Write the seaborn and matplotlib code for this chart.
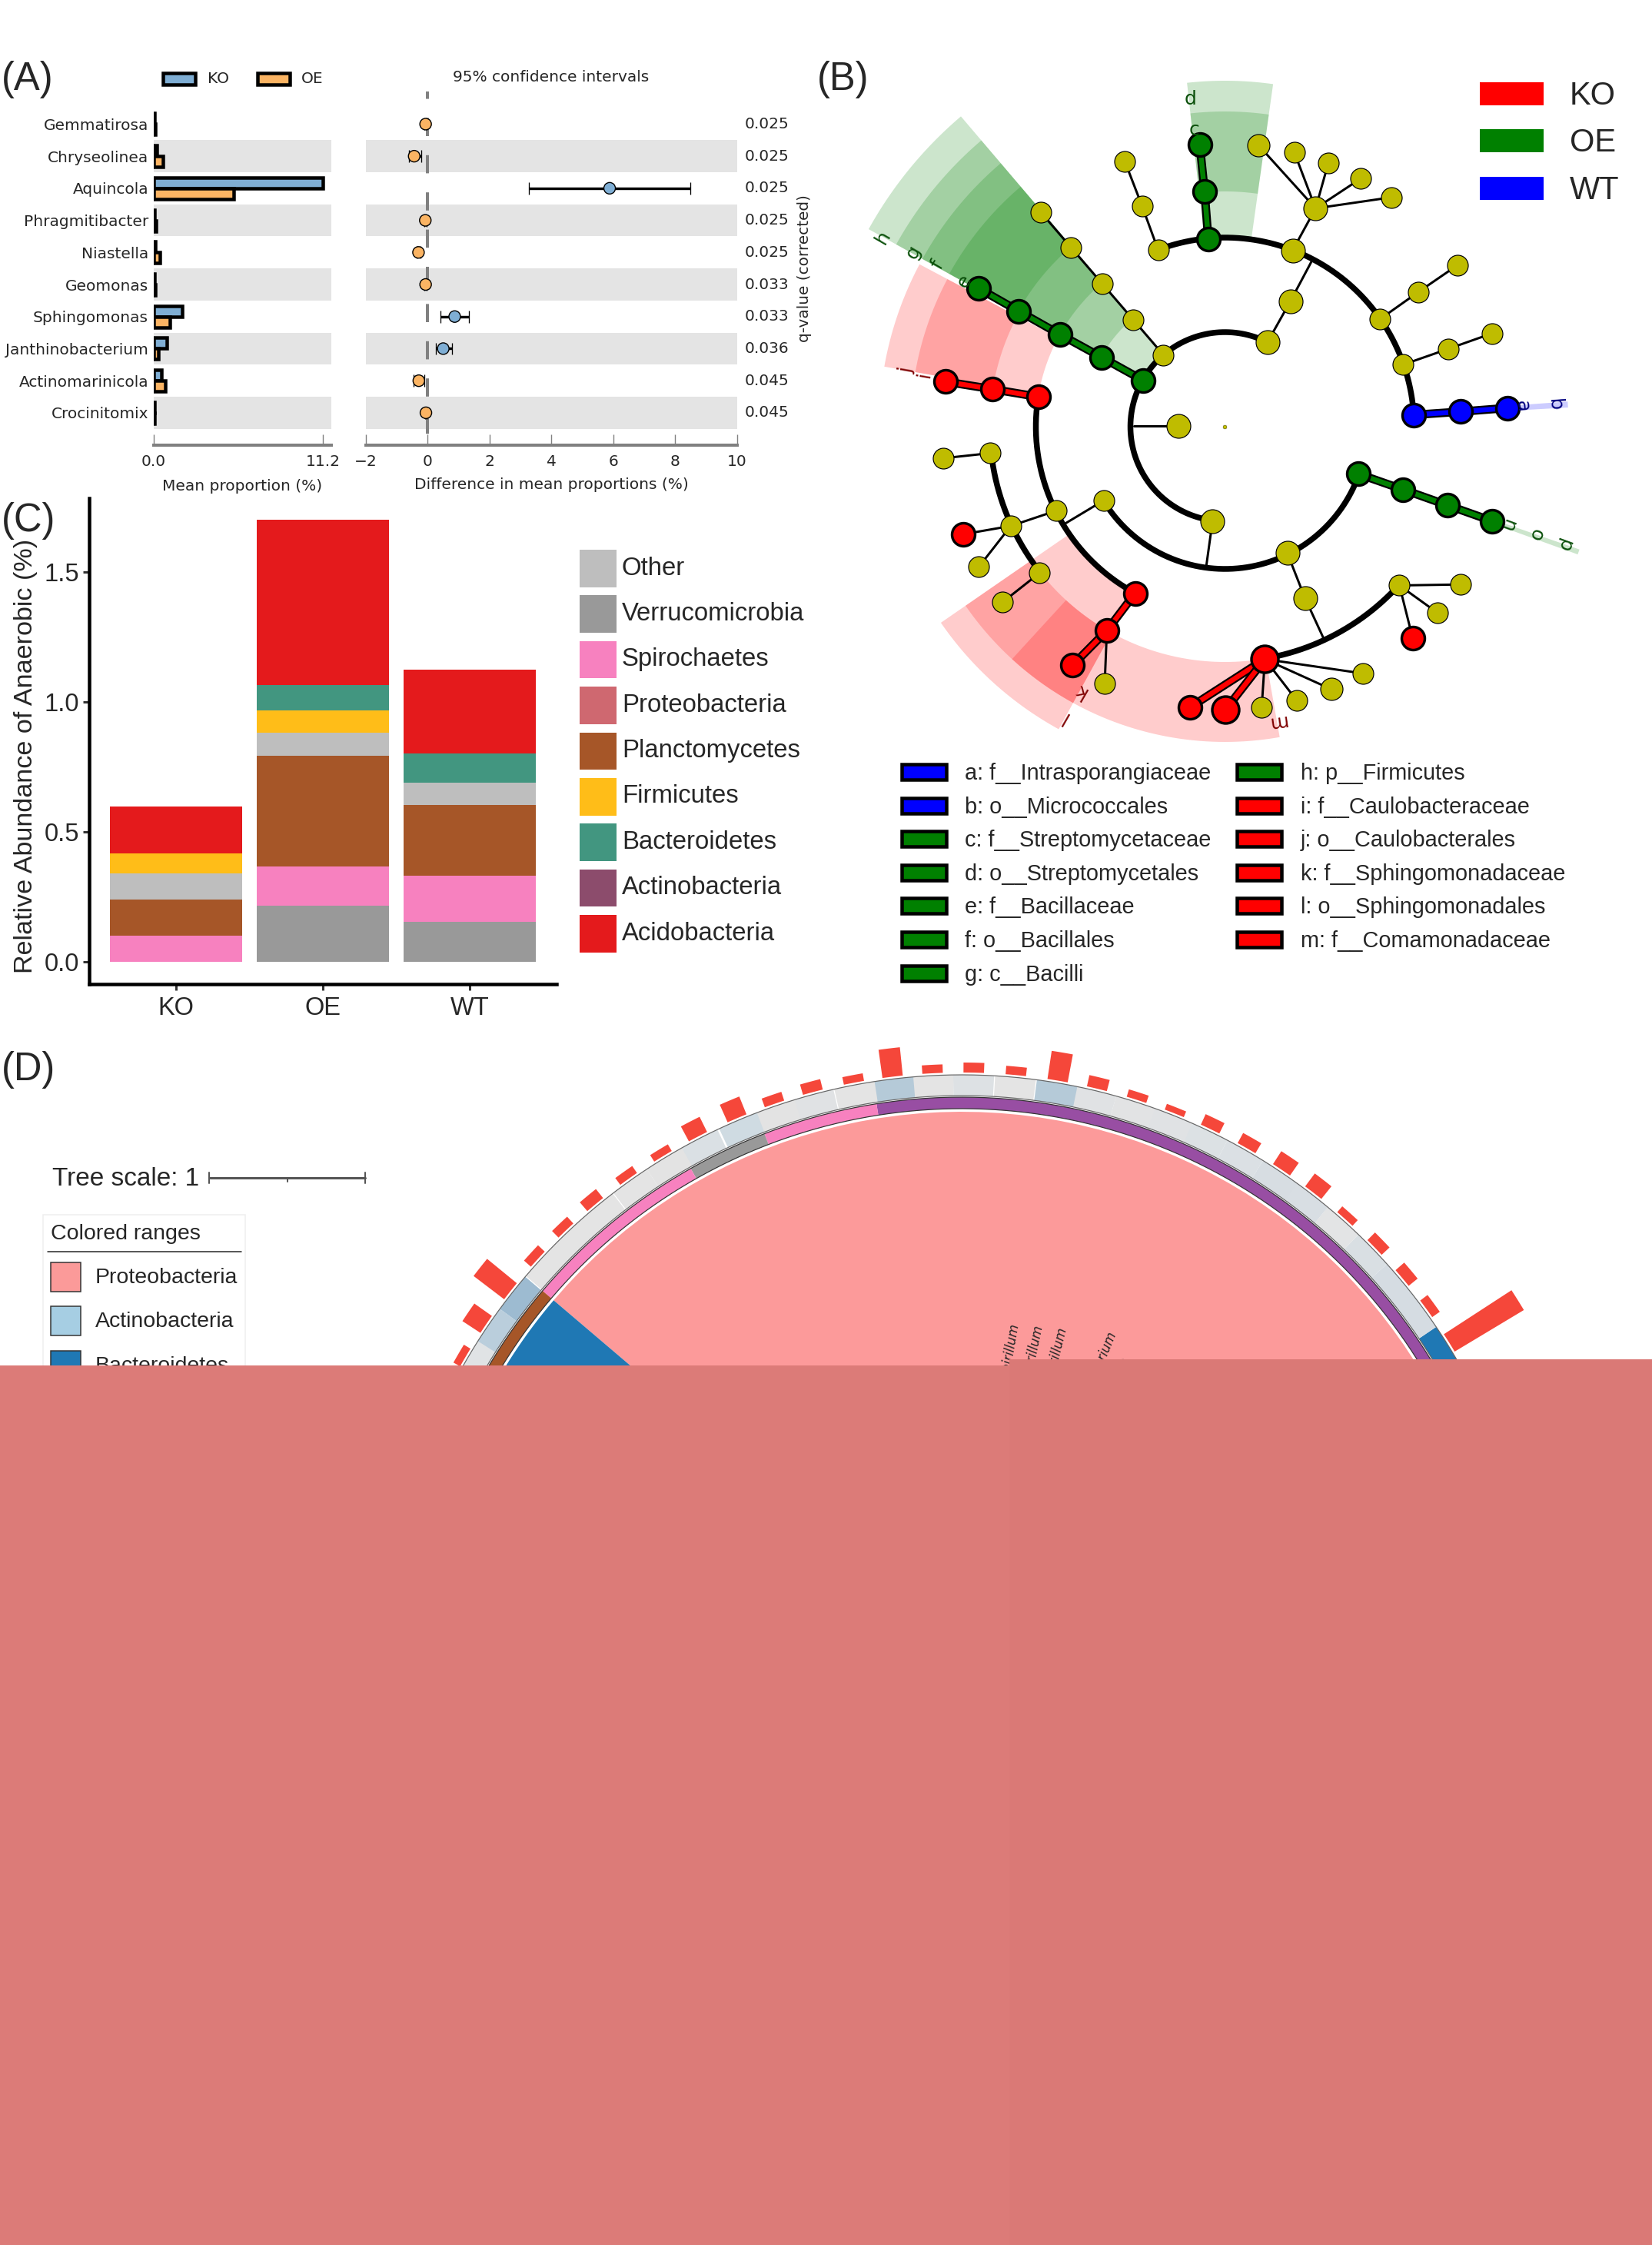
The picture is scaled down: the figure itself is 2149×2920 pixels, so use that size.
import numpy as np
import pandas as pd
import matplotlib
matplotlib.use("Agg")
import matplotlib.pyplot as plt
from matplotlib.patches import Rectangle
import seaborn as sns

W, H = 2149, 2920
sns.set_theme(style="white")
plt.rcParams["font.family"] = ["DejaVu Sans"]
SANS = "Liberation Sans"
PX = 0.72  # one pixel in points at dpi 100

# ---------------- panel A data
GENERA = ["Gemmatirosa", "Chryseolinea", "Aquincola", "Phragmitibacter", "Niastella",
          "Geomonas", "Sphingomonas", "Janthinobacterium", "Actinomarinicola", "Crocinitomix"]
MEAN_KO = [0.05, 0.2, 11.2, 0.05, 0.1, 0.05, 1.9, 0.85, 0.5, 0.03]
MEAN_OE = [0.1, 0.6, 5.3, 0.15, 0.4, 0.12, 1.05, 0.3, 0.75, 0.05]
DIFF = [-0.07, -0.44, 5.88, -0.08, -0.30, -0.07, 0.87, 0.5, -0.29, -0.06]
CI_LOW = [-0.1, -0.62, 3.28, -0.12, -0.36, -0.1, 0.42, 0.25, -0.45, -0.09]
CI_HIGH = [-0.04, -0.22, 8.49, -0.04, -0.24, -0.04, 1.34, 0.79, -0.1, -0.03]
DIFF_GROUP = ["OE", "OE", "KO", "OE", "OE", "OE", "KO", "KO", "OE", "OE"]
QVALUES = ["0.025", "0.025", "0.025", "0.025", "0.025", "0.033", "0.033", "0.036", "0.045", "0.045"]
GROUP_COL = {"KO": "#7FAED4", "OE": "#FBB463"}

# ---------------- panel C data
STRAINS = ["KO", "OE", "WT"]
VERRUCO = [0.0, 0.216, 0.152]
SPIRO = [0.100, 0.151, 0.177]
PLANCTO = [0.139, 0.424, 0.275]
OTHER = [0.101, 0.090, 0.084]
FIRMI = [0.075, 0.086, 0.0]
BACTERO = [0.0, 0.099, 0.112]
ACIDO = [0.182, 0.634, 0.325]
C_LEGEND = ["Other", "Verrucomicrobia", "Spirochaetes", "Proteobacteria", "Planctomycetes",
            "Firmicutes", "Bacteroidetes", "Actinobacteria", "Acidobacteria"]
C_COLORS = ["#BEBEBE", "#999999", "#F781BF", "#CF6870", "#A65628",
            "#FFBD18", "#429680", "#8C4C6C", "#E41A1C"]

# ---------------- panel B data (readings of the cladogram)
B_NAME = ["g1", "g2", "g3",
          "t1", "t2", "t3",
          "u1", "u2", "u3", "u4", "u5", "u6", "u7",
          "v1", "v2",
          "w1", "w2", "w3",
          "x1", "x2", "x3",
          "b1", "b2", "b3",
          "n1", "n2", "n3", "n4",
          "y1", "y2",
          "z1", "z2", "z3", "z4",
          "m1", "m2", "m3", "m4", "m5", "m6", "m7",
          "c1", "c2",
          "f0", "f1", "f2", "f3", "f4",
          "e0", "e1", "e2", "e3", "e4",
          "i1", "i2", "i3",
          "a1", "l1", "l2", "l3", "l4", "l5", "l6", "l7", "l8",
          "k1", "k2", "k3", "k4",
          "o"]
B_ZX = [737, 730, 721,
        643, 613, 581,
        895, 938, 831, 898, 962, 1023, 1080,
        848, 891,
        1059, 1131, 1204,
        1102, 1186, 1269,
        1122, 1210, 1298,
        1018, 1102, 1185, 1268,
        885, 918,
        1095, 1209, 1167, 1120,
        843, 1027, 967, 903, 837, 702, 769,
        745, 681,
        653, 596, 538, 480, 423,
        615, 537, 460, 382, 306,
        419, 332, 245,
        542, 452, 367, 329, 241, 278, 307, 421, 352,
        600, 547, 483, 543,
        768]
B_ZY = [418, 315, 213,
        442, 347, 251,
        443, 352, 215, 230, 253, 287, 328,
        642, 553,
        592, 533, 475,
        691, 657, 623,
        800, 793, 785,
        928, 962, 996, 1030,
        1100, 1197,
        1170, 1168, 1230, 1285,
        1330, 1361, 1395, 1420, 1435, 1435, 1440,
        1030, 824,
        670, 593, 515, 437, 360,
        725, 675, 626, 575, 525,
        761, 744, 728,
        985, 1008, 1041, 883, 894, 1059, 1130, 1143, 1206,
        1187, 1268, 1343, 1382,
        826]
B_CLASS = ["G", "G", "G",
           "s", "s", "s",
           "l", "l", "m", "s", "s", "s", "s",
           "l", "l",
           "s", "s", "s",
           "s", "s", "s",
           "B", "B", "B",
           "G", "G", "G", "G",
           "l", "l",
           "s", "s", "s", "R",
           "Rb", "s", "m", "s", "s", "R", "Rb",
           "l", "l",
           "s", "s", "s", "s", "s",
           "G", "G", "G", "G", "G",
           "R", "R", "R",
           "s", "s", "s", "s", "s", "R", "s", "s", "s",
           "R", "R", "R", "s",
           "t"]
THIN_CHAINS = [["t1", "t2", "t3"], ["u1", "u2"], ["u2", "u3"], ["u2", "u4"], ["u2", "u5"], ["u2", "u6"], ["u2", "u7"],
               ["w1", "w2", "w3"], ["x1", "x2", "x3"], ["z1", "z2"], ["z1", "z3"], ["z1", "z4"],
               ["m1", "m2"], ["m1", "m3"], ["m1", "m4"], ["m1", "m5"],
               ["f0", "f1", "f2", "f3", "f4"], ["l1", "l2"], ["l2", "l5"], ["l2", "l6"], ["l3", "l4"], ["l7", "l8"],
               ["k2", "k4"]]
COLOR_CHAINS = [["b1", "b2", "b3"], ["g1", "g2", "g3"], ["n1", "n2", "n3", "n4"], ["e0", "e1", "e2", "e3", "e4"],
                ["i1", "i2", "i3"], ["k1", "k2", "k3"], ["m1", "m6"], ["m1", "m7"]]
COLOR_CHAIN_COL = ["#0000FF", "#008000", "#008000", "#008000", "#FF0000", "#FF0000", "#FF0000", "#FF0000"]
STEM_ZX = [[597, 681], [733, 745], [953, 918, 885], [930, 891, 848], [470, 542]]
STEM_ZY = [[824, 824], [1130, 1030], [1285, 1197, 1100], [468, 553, 642], [1035, 985]]
ARC_R = [123, 185, 246, 246, 306, 306]
ARC_FROM = [63.4, -146.1, 3.6, 170, -80.2, 186.4]
ARC_TO = [262.5, -19.3, 110.7, 241.6, -42.2, 218.2]
SECTOR_R0 = [123, 185, 246, 308, 246, 306, 246, 306, 306, 246, 306, 246, 185]
SECTOR_R1 = [530, 489, 450, 410, 450, 409, 449, 410, 410, 450, 410, 447, 488]
SECTOR_A0 = [130.4, 130.4, 130.4, 130.4, 152, 152, 214.6, 214.6, 227.5, 82, 82, 3.2, -19.9]
SECTOR_A1 = [151, 151, 151, 151, 170, 170, 241.2, 241.2, 280, 96.3, 96.3, 4.2, -19.1]
SECTOR_COL = ["g", "g", "g", "g", "r", "r", "r", "r", "r", "g", "g", "b", "g"]
LETTERS = ["h", "g", "f", "e", "d", "c", "i", "j", "k", "l", "m", "a", "b", "n", "o", "p"]
LETTER_ZX = [128, 185, 230, 280, 703, 710, 205, 172, 497, 467, 865, 1325, 1385, 1297, 1350, 1403]
LETTER_ZY = [415, 447, 475, 510, 115, 182, 712, 703, 1398, 1455, 1465, 780, 778, 1040, 1060, 1083]
LETTER_ROT = [60, 60, 60, 60, 0, 0, 80, 80, 150, 150, 188, -86, -86, -110, -110, -110]
LETTER_COL = ["#0A4F0A"] * 6 + ["#7F0000"] * 5 + ["#00007F"] * 2 + ["#0A4F0A"] * 3
B_TOP_LEGEND = ["KO", "OE", "WT"]
B_TOP_COL = ["#FF0000", "#008000", "#0000FF"]
B_LEG_1 = ["a: f__Intrasporangiaceae", "b: o__Micrococcales", "c: f__Streptomycetaceae", "d: o__Streptomycetales",
           "e: f__Bacillaceae", "f: o__Bacillales", "g: c__Bacilli"]
B_LEG_1_COL = ["#0000FF", "#0000FF"] + ["#008000"] * 5
B_LEG_2 = ["h: p__Firmicutes", "i: f__Caulobacteraceae", "j: o__Caulobacterales", "k: f__Sphingomonadaceae",
           "l: o__Sphingomonadales", "m: f__Comamonadaceae"]
B_LEG_2_COL = ["#008000"] + ["#FF0000"] * 5

# ---------------- panel D data
BAR_ANGLE = [32, 36.1, 40, 44.1, 48.2, 52.3, 56.2, 60.3, 64.4, 68.3, 72.3, 76.4, 80.4, 84.6, 88.8, 92.9, 96.9,
             100.8, 105, 109, 113, 117.3, 121.3, 125.4, 129.6, 133.5, 137.5, 141.7, 145.8, 149.7]
BAR_LEN = [105, 12, 15, 14, 10, 21, 20, 15, 15, 8, 10, 15, 37, 11, 13, 11, 37,
           10, 14, 12, 25, 22, 10, 11, 15, 12, 12, 50, 28, 10]
RING_COL = ["#1F78B4", "#D5DCE2", "#D5DCE2", "#D9DFE3", "#E3E4E5", "#D8DEE3", "#D7DDE2", "#DBE0E4", "#DCE1E4",
            "#E0E2E4", "#E2E3E4", "#E0E2E4", "#B5CAD8", "#E4E4E4", "#DDE1E4", "#E4E4E4", "#B5CAD8",
            "#E4E4E4", "#E0E2E4", "#E3E3E3", "#CFDBE2", "#DAE0E4", "#E3E3E3", "#E4E4E4", "#E4E4E4",
            "#E4E4E4", "#E4E4E4", "#9DBBD1", "#BACEDC", "#E0E3E5"]
PHYLUM_FROM = [20, 98.9, 111, 119.5, 139.6]
PHYLUM_TO = [98.9, 111, 119.5, 139.6, 170]
PHYLUM_COL = ["#984EA3", "#F781BF", "#999999", "#F781BF", "#A65628"]
DISC_FROM = [-30, 139.6]
DISC_TO = [139.6, 210]
DISC_COL = ["#FC9A9A", "#1F78B4"]
D_LEGEND = ["Proteobacteria", "Actinobacteria", "Bacteroidetes"]
D_LEGEND_COL = ["#FB9A99", "#A6CEE3", "#1F78B4"]
LEAF_NAMES = ["Azospirillum", "Magnetospirillum", "Rhodospirillum", "Methylobacterium", "Novosphingobium"]
LEAF_X = [1322, 1352, 1383, 1448, 1465]
LEAF_Y = [1722, 1724, 1727, 1733, 1767]
LEAF_ROT = [80, 78, 76, 68, 66]

fig = plt.figure(figsize=(W / 100, H / 100), dpi=100, facecolor="white")


def ax_px(l, t, r, b):
    return fig.add_axes([l / W, 1 - b / H, (r - l) / W, (b - t) / H])


# ================= panel A bars
axa = ax_px(200, 119, 431, 578.6)
dfa = pd.DataFrame({"genus": GENERA * 2, "value": MEAN_KO + MEAN_OE, "group": ["KO"] * 10 + ["OE"] * 10})
sns.barplot(data=dfa, y="genus", x="value", hue="group", order=GENERA, hue_order=["KO", "OE"],
            palette=GROUP_COL, edgecolor="black", linewidth=4.5 * PX, width=0.67, ax=axa, legend=False,
            zorder=3, saturation=1)
axa.set_xlim(0, 11.75)
axa.set_ylim(10.0, -1.017)
for i in range(1, 10, 2):
    axa.axhspan(i - 0.5, i + 0.5, color="#E4E4E4", lw=0, zorder=0)

# ================= panel A differences
axb = ax_px(476, 119, 958.8, 578.6)
axb.set_xlim(-2, 10)
axb.set_ylim(10.0, -1.017)
for i in range(1, 10, 2):
    axb.axhspan(i - 0.5, i + 0.5, color="#E4E4E4", lw=0, zorder=0)
axb.plot([0, 0], [-1.017, 10.0], color="#808080", lw=4 * PX, ls=(3.5, (5.9, 6.2)), zorder=1)
ypos = np.arange(len(GENERA))
axb.hlines(ypos, CI_LOW, CI_HIGH, color="black", lw=3.4 * PX, zorder=2)
axb.vlines(CI_LOW, ypos - 0.19, ypos + 0.19, color="black", lw=1.3 * PX, zorder=2)
axb.vlines(CI_HIGH, ypos - 0.19, ypos + 0.19, color="black", lw=1.3 * PX, zorder=2)
sns.scatterplot(x=DIFF, y=ypos, hue=DIFF_GROUP, palette=GROUP_COL, s=(15 * PX) ** 2, edgecolor="black",
                linewidth=1.4 * PX, ax=axb, legend=False, zorder=3)
axb.set_xlim(-2, 10)
axb.set_ylim(10.0, -1.017)
for i, q in enumerate(QVALUES):
    axb.text(10.25, i, q, fontsize=14.5, va="center", ha="left")
axb.text(12.18, 4.5, "q-value (corrected)", fontsize=14.4, rotation=90, va="center", ha="center")

for ax in (axa, axb):
    sns.despine(ax=ax, left=True, top=True, right=True)
    ax.spines["bottom"].set_color("#808080")
    ax.spines["bottom"].set_linewidth(4 * PX)
    ax.tick_params(axis="x", direction="in", length=10, width=1, color="#808080", labelsize=14.5, pad=9, bottom=True)
    ax.grid(False)
    ax.patch.set_visible(False)
axa.set_xticks([0, 11.2], ["0.0", "11.2"])
axb.set_xticks([-2, 0, 2, 4, 6, 8, 10])
axa.tick_params(axis="y", length=0, labelsize=14.5, pad=5)
axb.set_yticks([])
axa.set_xlabel("Mean proportion (%)", fontsize=14.5, labelpad=9)
axb.set_xlabel("Difference in mean proportions (%)", fontsize=14.5, labelpad=8)
axa.set_ylabel("")
axb.set_ylabel("")

# ================= panel C
axc = ax_px(115.7, 648, 724, 1279.6)
stack = [(VERRUCO, "#999999"), (SPIRO, "#F781BF"), (PLANCTO, "#A65628"), (OTHER, "#BEBEBE"),
         (FIRMI, "#FFBD18"), (BACTERO, "#429680"), (ACIDO, "#E41A1C")]
base = np.zeros(3)
for vals, col in stack:
    sns.barplot(x=STRAINS, y=vals, order=STRAINS, color=col, saturation=1, width=0.9, bottom=base,
                linewidth=0, ax=axc)
    base = base + np.array(vals)
axc.set_xlim(-0.593, 2.59)
axc.set_ylim(-0.086, 1.784)
sns.despine(ax=axc)
for s in ("left", "bottom"):
    axc.spines[s].set_color("black")
    axc.spines[s].set_linewidth(4.5 * PX)
axc.set_yticks([0, 0.5, 1.0, 1.5], ["0.0", "0.5", "1.0", "1.5"])
axc.tick_params(axis="y", length=6, width=3 * PX, color="#333333", labelsize=23.5, left=True, pad=3)
axc.tick_params(axis="x", length=6, width=3 * PX, color="#333333", labelsize=23.5, bottom=True, pad=6)
for lab in axc.get_xticklabels() + axc.get_yticklabels():
    lab.set_fontfamily(SANS)
axc.set_ylabel("Relative Abundance of Anaerobic (%)", fontfamily=SANS, fontsize=24.6)
axc.yaxis.set_label_coords((49 - 115.7) / 608.3, 0.4696)
axc.set_xlabel("")
axc.grid(False)

# ================= overlay in picture pixels
cv = fig.add_axes([0, 0, 1, 1], zorder=5)
cv.set_xlim(0, W)
cv.set_ylim(H, 0)
cv.axis("off")

for lab, x, y in [("(A)", 2, 103), ("(B)", 1063, 104), ("(C)", 2, 677), ("(D)", 2, 1391)]:
    cv.text(x, y, lab, fontfamily=SANS, fontsize=36.5, va="center", ha="left")

# panel A legend
cv.add_patch(Rectangle((212, 95), 42, 15, fc=GROUP_COL["KO"], ec="black", lw=4.5 * PX))
cv.text(270, 102, "KO", fontsize=14.5, va="center")
cv.add_patch(Rectangle((335, 95), 42, 15, fc=GROUP_COL["OE"], ec="black", lw=4.5 * PX))
cv.text(392, 102, "OE", fontsize=14.5, va="center")
cv.text(717, 101, "95% confidence intervals", fontsize=14.5, va="center", ha="center")

# panel C legend
for i, (name, col) in enumerate(zip(C_LEGEND, C_COLORS)):
    top = 715 + 59.4 * i
    cv.add_patch(Rectangle((754, top), 48, 48.5, fc=col, ec="none"))
    cv.text(809, top + 24, name, fontfamily=SANS, fontsize=23.7, va="center")


def sector_xy(cx, cy, r0, r1, a0, a1):
    t = np.radians(np.linspace(a0, a1, 80))
    rr = np.r_[np.full(80, r1), np.full(80, r0)]
    tt = np.r_[t, t[::-1]]
    return cx + rr * np.cos(tt), cy - rr * np.sin(tt)


# ================= panel B
CXB, CYB = 1593.5, 555
nx = 1060 + np.array(B_ZX) / 1.44
ny = 60 + np.array(B_ZY) / 1.668
pos = dict(zip(B_NAME, zip(nx, ny)))
sect_col = {"g": "#008000", "r": "#FF0000", "b": "#0000FF"}
for r0, r1, a0, a1, c in zip(SECTOR_R0, SECTOR_R1, SECTOR_A0, SECTOR_A1, SECTOR_COL):
    xs, ys = sector_xy(CXB, CYB, r0, r1, a0, a1)
    cv.fill(xs, ys, color=sect_col[c], alpha=0.2, lw=0, zorder=1)
for r, a0, a1 in zip(ARC_R, ARC_FROM, ARC_TO):
    t = np.radians(np.linspace(a0, a1, 200))
    cv.plot(CXB + r * np.cos(t), CYB - r * np.sin(t), color="black", lw=7.5 * PX, zorder=2, solid_capstyle="round")
for chain in THIN_CHAINS:
    cv.plot([pos[n][0] for n in chain], [pos[n][1] for n in chain], color="black", lw=3 * PX, zorder=2)
for sx, sy in zip(STEM_ZX, STEM_ZY):
    cv.plot(1060 + np.array(sx) / 1.44, 60 + np.array(sy) / 1.668, color="black", lw=3 * PX, zorder=2)
for chain, col in zip(COLOR_CHAINS, COLOR_CHAIN_COL):
    xs = [pos[n][0] for n in chain]
    ys = [pos[n][1] for n in chain]
    cv.plot(xs, ys, color="black", lw=11 * PX, zorder=3)
    cv.plot(xs, ys, color=col, lw=6.5 * PX, zorder=3)

nodes = pd.DataFrame({"x": nx, "y": ny, "kind": B_CLASS})
styles = {"s": ("#BFBC00", 27, 1.2), "m": ("#BFBC00", 29, 1.2), "l": ("#BFBC00", 31, 1.2), "t": ("#BFBC00", 5, 0.3),
          "G": ("#008000", 30, 3.4), "R": ("#FF0000", 30, 3.4), "Rb": ("#FF0000", 35, 3.4), "B": ("#0000FF", 30, 3.4)}
for kind, (col, dia, ew) in styles.items():
    sub = nodes[nodes.kind == kind]
    sns.scatterplot(data=sub, x="x", y="y", color=col, s=(dia * PX) ** 2, edgecolor="black",
                    linewidth=ew * PX, ax=cv, legend=False, zorder=4)
cv.set_xlim(0, W)
cv.set_ylim(H, 0)
for s, zx, zy, rot, col in zip(LETTERS, LETTER_ZX, LETTER_ZY, LETTER_ROT, LETTER_COL):
    cv.text(1060 + zx / 1.44, 60 + zy / 1.668, s, color=col, fontsize=18, rotation=rot, ha="center", va="center",
            rotation_mode="anchor", zorder=5)
for i, (name, col) in enumerate(zip(B_TOP_LEGEND, B_TOP_COL)):
    top = 107 + 61.3 * i
    cv.add_patch(Rectangle((1925, top), 83, 30, fc=col, ec="none"))
    cv.text(2042, top + 18, name, fontfamily=SANS, fontsize=30, va="center")
for names, cols, xs, xt, ys in ((B_LEG_1, B_LEG_1_COL, 1171, 1255, 1004), (B_LEG_2, B_LEG_2_COL, 1607, 1692, 1004)):
    for i, (name, col) in enumerate(zip(names, cols)):
        yc = ys + 43.6 * i
        cv.add_patch(Rectangle((xs + 2, yc - 10), 58, 20, fc=col, ec="black", lw=4.5 * PX))
        cv.text(xt, yc + 2, name, fontfamily=SANS, fontsize=20.8, va="center")

# ================= panel D
CXD, CYD = 1251, 2143
for a0, a1, c in zip(DISC_FROM, DISC_TO, DISC_COL):
    xs, ys = sector_xy(CXD, CYD, 0, 697, a0, a1)
    cv.fill(xs, ys, color=c, lw=0, zorder=1)
for a0, a1, c in zip(PHYLUM_FROM, PHYLUM_TO, PHYLUM_COL):
    xs, ys = sector_xy(CXD, CYD, 701, 716, a0, a1)
    cv.fill(xs, ys, color=c, lw=0, zorder=2)
half = 2.05
for a, ln, c in zip(BAR_ANGLE, BAR_LEN, RING_COL):
    lo = a - half - (4 if a == BAR_ANGLE[0] else 0)
    xs, ys = sector_xy(CXD, CYD, 718, 745, lo, a + half)
    cv.fill(xs, ys, color=c, lw=0, zorder=2)
    xs, ys = sector_xy(CXD, CYD, 748, 748 + ln, a - 1.02, a + 1.02)
    cv.fill(xs, ys, color="#F5473A", lw=0, zorder=2)
t = np.radians(np.linspace(20, 170, 400))
for r, lc, w in ((745, "#666666", 1.2), (718, "#666666", 1.2), (716, "#333333", 1.2), (701, "#333333", 1.2)):
    cv.plot(CXD + r * np.cos(t), CYD - r * np.sin(t), color=lc, lw=w * PX, zorder=3)
for name, x, y, rot in zip(LEAF_NAMES, LEAF_X, LEAF_Y, LEAF_ROT):
    cv.text(x, y, name, fontsize=12, style="italic", rotation=rot, rotation_mode="anchor", ha="right", va="center",
            zorder=4)

# tree scale
cv.text(68, 1534, "Tree scale: 1", fontfamily=SANS, fontsize=24, va="center")
cv.plot([272, 475], [1532, 1532], color="#555555", lw=3 * PX, zorder=3)
for x, t0, t1 in ((272, 1525, 1539), (475, 1525, 1539), (373.5, 1532, 1537)):
    cv.plot([x, x], [t0, t1], color="#555555", lw=2 * PX, zorder=3)

# colored ranges legend
cv.add_patch(Rectangle((56, 1580), 263, 300, fc="white", ec="#EEEEEE", lw=1.5 * PX, zorder=3))
cv.text(66, 1605, "Colored ranges", fontfamily=SANS, fontsize=20.5, va="center", zorder=4)
cv.plot([62, 314], [1628, 1628], color="#222222", lw=1.5 * PX, zorder=4)
for i, (name, col) in enumerate(zip(D_LEGEND, D_LEGEND_COL)):
    top = 1642 + 57.3 * i
    cv.add_patch(Rectangle((66, top), 39, 38, fc=col, ec="#333333", lw=1.5 * PX, zorder=4))
    cv.text(124, top + 20, name, fontfamily=SANS, fontsize=20.5, va="center", zorder=4)

# solid block covering the lower part of the picture
cv.add_patch(Rectangle((0, 1776), 1313, H - 1776, fc="#DC7B78", ec="none", zorder=10))
cv.add_patch(Rectangle((1313, 1768), W - 1313, H - 1768, fc="#DA7976", ec="none", zorder=10))

fig.savefig("out.png", dpi=100, facecolor="white")
